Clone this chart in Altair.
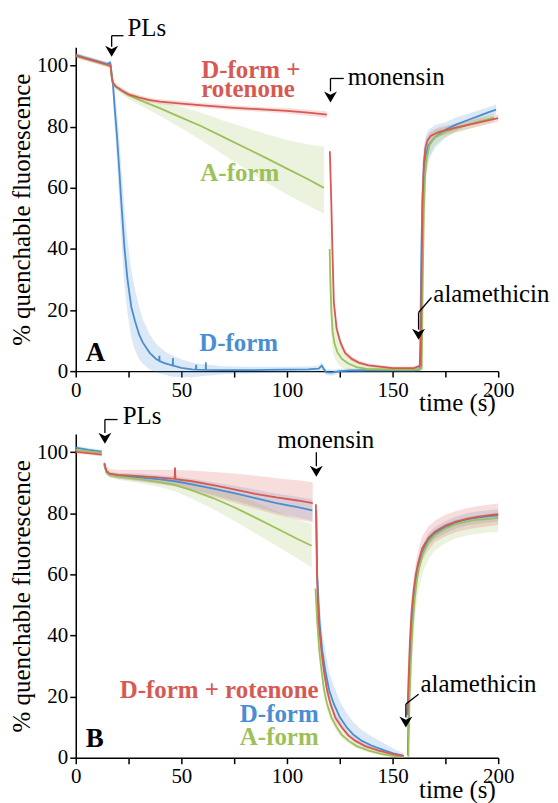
import altair as alt
import pandas as pd

# ---------------- data ----------------
# Panel A
A_RED1_T = [0, 5, 10, 15, 16.5, 17, 17.5, 19, 22, 25, 30, 35, 40, 50, 60, 75, 90, 100, 110, 118.9]
A_RED1_V = [103.3, 102.3, 101.3, 100.3, 99.9, 96.5, 94.5, 93.2, 91.8, 90.6, 89.5, 88.7, 88.2, 87.6, 87.0, 86.2, 85.6, 85.2, 84.6, 84.0]
A_RED1_LO = [102.5, 101.5, 100.5, 99.5, 99.1, 95.5, 93.6, 92.4, 91.0, 89.8, 88.7, 87.9, 87.4, 86.8, 86.2, 85.4, 84.8, 84.3, 83.6, 82.9]
A_RED1_HI = [104.1, 103.1, 102.1, 101.1, 100.7, 97.5, 95.4, 94.0, 92.6, 91.4, 90.3, 89.5, 89.0, 88.4, 87.8, 87.0, 86.4, 86.1, 85.6, 85.1]

A_RED2_T = [120.3, 121, 121.5, 122.2, 123.5, 125.3, 127.5, 130.7, 134, 138.7, 150, 160, 163.3, 163.7, 164.2, 164.8, 165.5, 166.5, 168, 172, 180, 190, 200]
A_RED2_V = [72, 55, 40, 22.5, 14, 9.4, 6, 4, 2.8, 1.9, 1.0, 1.0, 1.8, 30, 55, 68, 73, 75.5, 77, 78.3, 79.7, 81.3, 82.8]
A_RED2_LO = [70, 52, 37, 20.5, 12.5, 8.2, 5, 3.2, 2.1, 1.3, 0.5, 0.5, 1.2, 26, 51, 65.5, 71, 73.8, 75.5, 76.8, 78.3, 80, 81.6]
A_RED2_HI = [74, 58, 43, 24.5, 15.5, 10.6, 7, 4.8, 3.5, 2.5, 1.5, 1.5, 2.4, 34, 59, 70.5, 75, 77.2, 78.5, 79.8, 81.1, 82.6, 84]

A_GRN1_T = [0, 5, 10, 15, 16.5, 17, 17.5, 19, 22, 25, 30, 35, 40, 50, 60, 70, 80, 90, 100, 110, 117.5]
A_GRN1_V = [103.2, 102.2, 101.2, 100.2, 99.8, 96.3, 94.4, 93.0, 91.6, 90.3, 88.8, 87.4, 86.0, 83.0, 80.0, 76.6, 73.2, 69.8, 66.3, 62.8, 60.0]
A_GRN1_LO = [102.5, 101.5, 100.5, 99.5, 99.1, 95.5, 93.5, 92.2, 90.6, 89.0, 87.2, 85.4, 83.5, 79.5, 75.3, 70.8, 66.3, 61.8, 57.8, 54.2, 51.5]
A_GRN1_HI = [103.9, 102.9, 101.9, 100.9, 100.5, 97.1, 95.3, 93.8, 92.5, 91.4, 90.2, 89.2, 88.3, 86.5, 84.5, 82.0, 79.8, 77.6, 75.7, 74.2, 73.5]

A_GRN2_T = [120.2, 120.6, 121, 121.6, 122.5, 124, 126, 129, 133, 138, 150, 160, 163.8, 164.3, 164.8, 165.4, 166.2, 167.5, 170, 175, 180, 190, 198]
A_GRN2_V = [40, 28, 20, 13, 9, 6, 4, 2.5, 1.3, 0.7, 0.5, 0.5, 0.8, 30, 52, 64, 70, 74, 76.5, 78.3, 79.5, 81.5, 83]
A_GRN2_LO = [28, 18, 12, 7, 4.5, 2.5, 1.2, 0.3, -0.3, -0.4, -0.2, -0.2, 0.2, 18, 40, 56, 65, 70.5, 74, 76.5, 78, 80, 81.5]
A_GRN2_HI = [60, 45, 34, 24, 17, 12, 8, 5.2, 3.2, 2, 1.2, 1.2, 1.5, 45, 64, 71, 75, 77.5, 79, 80, 81, 83, 84.5]

A_BLU_T = [0, 5, 10, 15, 16.2, 16.5, 16.8, 17.6, 18.4, 19.5, 20.5, 21.6, 23.1, 24.5, 26.3, 28, 30, 31.7, 35, 38,
           39.5, 39.6, 39.7, 42, 45.9, 46.0, 46.1, 50, 55, 56.9, 57.0, 57.1, 61.5, 61.6, 61.7, 70, 80, 90, 100, 110,
           115, 116.5, 117.5, 118.5, 121, 125, 130, 140, 150, 160, 162.8, 163.1, 163.3, 163.7, 164.2, 164.8, 165.8,
           167, 170, 175, 180, 186, 190, 195, 199]
A_BLU_V = [103.5, 102.5, 101.5, 100.5, 101.0, 100.5, 98.5, 94, 86.5, 77, 67, 55, 40, 30, 21, 16.5, 12, 9.4, 6, 4.0,
           3.4, 5.0, 3.3, 2.6, 1.8, 4.3, 1.8, 1.1, 0.6, 0.5, 2.1, 0.5, 0.4, 2.9, 0.4, 0.3, 0.3, 0.4, 0.5, 0.6,
           0.8, 1.8, 0.6, -0.3, -0.5, 0, 0.2, 0.3, 0.3, 0.3, 0.5, 9, 21, 42, 58, 66, 71,
           74, 76.5, 79, 80.7, 82.3, 83.3, 84.6, 85.6]
A_BLU_LO = [102.8, 101.8, 100.8, 99.8, 100.2, 99.5, 96.5, 90, 80, 69, 57, 43, 28, 19, 11, 7, 4, 2.5, 0.5, -0.5,
            -0.8, -0.8, -0.8, -1.2, -1.8, -1.8, -1.8, -2, -2, -1.8, -1.8, -1.8, -1.5, -1.5, -1.5, -1, -0.8, -0.6, -0.4, -0.3,
            -0.2, 0.5, -0.5, -1.3, -1.5, -0.8, -0.5, -0.4, -0.4, -0.4, -0.2, 4, 12, 28, 44, 56, 64,
            69, 73, 76.5, 78.5, 80.5, 81.5, 83, 84]
A_BLU_HI = [104.2, 103.2, 102.2, 101.2, 101.8, 101.5, 100.5, 97, 92, 85, 77, 67, 53, 43, 33, 27, 21, 17, 12, 9,
            8, 8, 8, 6.5, 5, 5, 5, 3.8, 2.8, 2.5, 2.5, 2.5, 2.2, 2.2, 2.2, 1.6, 1.4, 1.4, 1.4, 1.5,
            1.8, 3, 1.6, 0.7, 0.5, 0.8, 0.9, 1, 1, 1, 1.2, 16, 32, 56, 69, 74, 77,
            79, 80.5, 81.5, 83, 84.3, 85.2, 86.3, 87.3]

# Panel B
B_RED1_T = [0, 6, 12.3]
B_RED1_V = [100.1, 99.7, 99.2]
B_RED1_LO = [99.5, 99.1, 98.6]
B_RED1_HI = [100.7, 100.3, 99.8]
B_RED2_T = [13.5, 14.5, 16, 20, 30, 40, 46.8, 47, 47.2, 55, 65, 75, 85, 95, 105, 112.2]
B_RED2_V = [96.5, 94.0, 93.0, 92.6, 92.2, 91.7, 91.3, 95.0, 91.2, 90.5, 89.2, 87.8, 86.4, 85.2, 84.2, 83.3]
B_RED2_LO = [95.5, 92.8, 91.8, 91.3, 90.5, 89.5, 88.8, 88.8, 88.7, 87.5, 85.5, 83.5, 81.5, 79.5, 78, 77]
B_RED2_HI = [97.5, 95.3, 94.5, 94.3, 94.3, 94.3, 94.2, 96, 94.2, 94.0, 93.5, 93, 92.3, 91.5, 90.8, 90.2]
B_RED3_T = [113.7, 114.2, 115, 116.3, 117.5, 119, 120.6, 123, 126, 129, 132.4, 137, 143.4, 150, 155.2]
B_RED3_V = [83, 60, 44.6, 35, 28.3, 22, 17.6, 13, 9.9, 7.3, 5.5, 3.8, 2.3, 1.2, 0.6]
B_RED3_LO = [80, 57, 42, 32.5, 26, 20, 16, 11.7, 8.8, 6.4, 4.7, 3.1, 1.7, 0.7, 0.2]
B_RED3_HI = [85, 63, 47, 37.5, 30.5, 24, 19.2, 14.3, 11, 8.2, 6.3, 4.5, 2.9, 1.7, 1.0]
B_RED4_T = [157, 157.5, 158.2, 159, 160, 161, 162, 164, 167, 170, 175, 180, 185, 190, 195, 200]
B_RED4_V = [14, 25, 38, 48, 55, 60, 63.5, 68.5, 72, 74, 76, 77.3, 78.2, 78.8, 79.3, 79.7]
B_RED4_LO = [11, 21, 33, 43.5, 51, 56, 59.5, 64.5, 68, 70.5, 72.5, 73.8, 74.7, 75.3, 75.8, 76.2]
B_RED4_HI = [17, 29, 43, 52.5, 59, 64, 67.5, 72.5, 75.8, 77.6, 79.5, 80.8, 81.7, 82.3, 82.8, 83.2]

B_BLU1_T = [0, 6, 12.3]
B_BLU1_V = [101.5, 100.8, 100.2]
B_BLU1_LO = [100.9, 100.2, 99.6]
B_BLU1_HI = [102.1, 101.4, 100.8]
B_BLU2_T = [13.5, 14.5, 16, 20, 30, 40, 47, 55, 65, 75, 85, 95, 105, 112]
B_BLU2_V = [96, 93.5, 92.8, 92.3, 91.8, 91.1, 90.5, 89.5, 88.1, 86.6, 85.0, 83.3, 82.0, 81.0]
B_BLU2_LO = [95.4, 92.8, 92, 91.4, 90.6, 89.7, 88.9, 87.7, 86, 84.2, 82.2, 80.2, 78.6, 77.5]
B_BLU2_HI = [96.6, 94.2, 93.6, 93.2, 93, 92.5, 92.1, 91.3, 90.2, 89, 87.8, 86.4, 85.4, 84.5]
B_BLU3_T = [113.9, 114.3, 115.4, 116.7, 118.2, 120, 122.2, 125, 128.3, 131.5, 135.5, 140, 146.5, 151, 155.2]
B_BLU3_V = [81, 60, 44.6, 35, 28.3, 22, 17.6, 13.3, 9.9, 7.5, 5.5, 4, 2.3, 1.3, 0.6]
B_BLU3_LO = [78, 55, 40, 31, 24.5, 19, 15, 11, 8, 6, 4.2, 3, 1.6, 0.7, 0.1]
B_BLU3_HI = [84, 66, 51, 41, 35, 28, 23.5, 18.5, 14.5, 11.5, 9, 7, 4.5, 2.8, 1.5]
B_BLU4_T = [157.2, 157.5, 158, 158.7, 159.5, 160.5, 161.5, 162.5, 164.5, 167, 170, 175, 180, 185, 190, 195, 200]
B_BLU4_V = [0.8, 12, 25, 38, 48, 55, 60, 63.5, 68, 71.5, 73.5, 75.5, 77, 78, 78.6, 79, 79.3]
B_BLU4_LO = [0, 9, 21, 34, 45, 52, 57, 61, 66, 69.5, 71.5, 73.5, 75, 76, 76.6, 77, 77.3]
B_BLU4_HI = [2, 15, 29, 42, 51, 58, 63, 66, 70, 73.5, 75.5, 77.5, 79, 80, 80.6, 81, 81.3]

B_GRN1_T = [0, 6, 12.3]
B_GRN1_V = [100.8, 100.3, 99.8]
B_GRN1_LO = [100.2, 99.7, 99.2]
B_GRN1_HI = [101.4, 100.9, 100.4]
B_GRN2_T = [13.5, 14.5, 16, 20, 30, 40, 47, 55, 65, 75, 85, 95, 105, 111.7]
B_GRN2_V = [96, 93.4, 92.6, 92.0, 91.2, 90.2, 89.3, 87.5, 85.0, 82.0, 78.6, 75.1, 71.6, 69.4]
B_GRN2_LO = [95.4, 92.6, 91.8, 91.0, 89.9, 88.5, 87.2, 84.8, 81.4, 77.6, 73.5, 69.4, 65.2, 62.3]
B_GRN2_HI = [96.6, 94.2, 93.4, 93.0, 92.5, 91.9, 91.3, 90.2, 88.6, 86.4, 83.7, 80.8, 78.0, 76.5]
B_GRN3_T = [113.5, 114.3, 115.3, 116.4, 117.6, 119, 121, 123.6, 126, 129.2, 133, 138.7, 145, 150, 155.2]
B_GRN3_V = [55.4, 44.6, 35, 28.3, 22, 17.6, 13.3, 9.9, 7.5, 5.5, 3.8, 2.3, 1.2, 0.6, 0.3]
B_GRN3_LO = [52, 41.5, 32.2, 25.8, 19.8, 15.7, 11.7, 8.6, 6.4, 4.6, 3.0, 1.7, 0.7, 0.2, -0.1]
B_GRN3_HI = [58.8, 47.7, 37.8, 30.8, 24.2, 19.5, 14.9, 11.2, 8.6, 6.4, 4.6, 2.9, 1.7, 1.0, 0.7]
B_GRN4_T = [157.5, 157.6, 158, 158.7, 159.5, 160.5, 161.5, 162.5, 164.5, 167, 170, 175, 180, 185, 190, 195, 200]
B_GRN4_V = [0.3, 5, 18, 32, 43, 52, 58, 62, 67, 70.5, 72.8, 75, 76.5, 77.3, 77.9, 78.2, 78.5]
B_GRN4_LO = [0, 2, 12, 25, 36, 45, 51, 55.5, 61, 65, 67.8, 70.2, 71.8, 72.7, 73.3, 73.7, 74]
B_GRN4_HI = [0.8, 8, 22, 36, 47, 55.5, 61, 64.5, 69, 72.3, 74.5, 76.6, 78, 78.8, 79.4, 79.8, 80.2]

# annotation texts
A_NOTE_TEXT = ["PLs", "monensin", "alamethicin"]
A_NOTE_T = [24.5, 128.8, 169.3]
A_NOTE_V = [109.6, 93.6, 22.5]
B_NOTE_TEXT = ["PLs", "alamethicin"]
B_NOTE_T = [22.2, 163.2]
B_NOTE_V = [109.3, 21.6]
B_MON_TEXT = ["monensin"]
B_MON_T = [118.4]
B_MON_V = [101.4]

# arrow segments (t, v) -> (t2, v2) and arrow heads
A_SEG_T = [17, 17, 120.6, 120.6, 168.4, 162.3]
A_SEG_V = [109.8, 109.8, 95.8, 95.8, 24.1, 19.2]
A_SEG_T2 = [22.6, 17, 126.9, 120.6, 162.3, 162.3]
A_SEG_V2 = [109.8, 106.2, 95.8, 91.6, 19.2, 13.6]
A_HEAD_T = [17, 120.6, 162.3]
A_HEAD_V = [104.7, 89.7, 12.05]
B_SEG_T = [13.8, 13.8, 113.9, 162.3, 156.3]
B_SEG_V = [110.7, 110.7, 100.0, 20.8, 17.6]
B_SEG_T2 = [19.8, 13.8, 113.9, 156.3, 156.3]
B_SEG_V2 = [110.7, 106.3, 95.4, 17.6, 13.2]
B_HEAD_T = [13.8, 113.9, 156.3]
B_HEAD_V = [104.6, 93.8, 11.7]

# series labels
A_LAB_TEXT = ["D-form +", "rotenone", "A-form", "D-form"]
A_LAB_SER = ["red", "red", "green", "blue"]
A_LAB_T = [59.4, 59.4, 59.0, 58.5]
A_LAB_V = [95.8, 89.9, 62.2, 6.5]
B_LAB_TEXT = ["D-form + rotenone", "D-form", "A-form"]
B_LAB_SER = ["red", "blue", "green"]
B_LAB_T = [115, 115, 115]
B_LAB_V = [19.5, 11.7, 4.2]
PANEL_T = [4.7]
PANEL_V = [3.4]

X_TICKS = [0, 25, 50, 75, 100, 125, 150, 175, 200]
Y_TICKS = [0, 20, 40, 60, 80, 100]

COL = {"red": "#d65a53", "blue": "#4a8ed2", "green": "#9cc15b"}
FONT = "Liberation Serif, Times New Roman, serif"

SEGMENTS = [
    ("A", "blue", A_BLU_T, A_BLU_V, A_BLU_LO, A_BLU_HI),
    ("A", "green", A_GRN1_T, A_GRN1_V, A_GRN1_LO, A_GRN1_HI),
    ("A", "green", A_GRN2_T, A_GRN2_V, A_GRN2_LO, A_GRN2_HI),
    ("A", "red", A_RED1_T, A_RED1_V, A_RED1_LO, A_RED1_HI),
    ("A", "red", A_RED2_T, A_RED2_V, A_RED2_LO, A_RED2_HI),
    ("B", "blue", B_BLU1_T, B_BLU1_V, B_BLU1_LO, B_BLU1_HI),
    ("B", "blue", B_BLU2_T, B_BLU2_V, B_BLU2_LO, B_BLU2_HI),
    ("B", "blue", B_BLU3_T, B_BLU3_V, B_BLU3_LO, B_BLU3_HI),
    ("B", "blue", B_BLU4_T, B_BLU4_V, B_BLU4_LO, B_BLU4_HI),
    ("B", "green", B_GRN1_T, B_GRN1_V, B_GRN1_LO, B_GRN1_HI),
    ("B", "green", B_GRN2_T, B_GRN2_V, B_GRN2_LO, B_GRN2_HI),
    ("B", "green", B_GRN3_T, B_GRN3_V, B_GRN3_LO, B_GRN3_HI),
    ("B", "green", B_GRN4_T, B_GRN4_V, B_GRN4_LO, B_GRN4_HI),
    ("B", "red", B_RED1_T, B_RED1_V, B_RED1_LO, B_RED1_HI),
    ("B", "red", B_RED2_T, B_RED2_V, B_RED2_LO, B_RED2_HI),
    ("B", "red", B_RED3_T, B_RED3_V, B_RED3_LO, B_RED3_HI),
    ("B", "red", B_RED4_T, B_RED4_V, B_RED4_LO, B_RED4_HI),
]

rows = []
for i, (p, s, T, V, LO, HI) in enumerate(SEGMENTS):
    assert len(T) == len(V) == len(LO) == len(HI), (p, s, i)
    for t, v, lo, hi in zip(T, V, LO, HI):
        rows.append(dict(panel=p, series=s, seg=i, t=t, v=v, lo=lo, hi=hi))
df = pd.DataFrame(rows)

# ---------------- encodings ----------------
XS = alt.Scale(domain=[0, 200], nice=False, zero=False)
YS = alt.Scale(domain=[0, 106], nice=False, zero=False)
XAX = alt.Axis(values=X_TICKS, labelExpr="datum.value % 50 == 0 ? datum.label : ''",
               tickSize=6, labelPadding=2, labelOverlap=False, labelFlush=False,
               titleX=421, titleY=40, titleAlign="right", titleBaseline="alphabetic")
YAX = alt.Axis(values=Y_TICKS, tickSize=6, labelPadding=2, labelOverlap=False, labelFlush=False,
               titlePadding=2)


def X(f="t"):
    return alt.X(f"{f}:Q", scale=XS, axis=XAX, title="time (s)")


def Y(f="v"):
    return alt.Y(f"{f}:Q", scale=YS, axis=YAX, title="% quenchable fluorescence")


def panel(p, notes, mon, segs, heads, labs, lab_align, letter):
    d = df[df.panel == p]
    layers = []
    for s in ["blue", "green", "red"]:
        ds = d[d.series == s]
        layers.append(alt.Chart(ds).mark_area(color=COL[s], opacity=0.2).encode(
            x=X(), y=Y("lo"), y2="hi:Q", detail="seg:N"))
    for s in ["blue", "green", "red"]:
        ds = d[d.series == s]
        layers.append(alt.Chart(ds).mark_line(color=COL[s], strokeWidth=1.8).encode(
            x=X(), y=Y(), detail="seg:N", order="t:Q"))
    # arrows
    layers.append(alt.Chart(segs).mark_rule(color="black", strokeWidth=1.3).encode(
        x=X(), y=Y(), x2="t2:Q", y2="v2:Q"))
    layers.append(alt.Chart(heads).mark_point(
        shape="M0,0.85L-1,-0.85L0,-0.35L1,-0.85Z", size=169, filled=True,
        color="black", opacity=1, strokeWidth=0).encode(x=X(), y=Y()))
    # annotation text
    layers.append(alt.Chart(notes).mark_text(font=FONT, fontSize=25, align="left",
                                             baseline="alphabetic", color="black").encode(
        x=X(), y=Y(), text="text:N"))
    if mon is not None:
        layers.append(alt.Chart(mon).mark_text(font=FONT, fontSize=25, align="center",
                                               baseline="alphabetic", color="black").encode(
            x=X(), y=Y(), text="text:N"))
    # series labels
    layers.append(alt.Chart(labs).mark_text(font=FONT, fontSize=25, fontWeight="bold",
                                            align=lab_align, baseline="alphabetic").encode(
        x=X(), y=Y(), text="text:N",
        color=alt.Color("series:N", scale=alt.Scale(domain=list(COL.keys()),
                                                    range=list(COL.values())), legend=None)))
    layers.append(alt.Chart(letter).mark_text(font=FONT, fontSize=27, fontWeight="bold",
                                              align="left", baseline="alphabetic",
                                              color="black").encode(
        x=X(), y=Y(), text="text:N"))
    return alt.layer(*layers).properties(width=424, height=325)


a_notes = pd.DataFrame(dict(text=A_NOTE_TEXT, t=A_NOTE_T, v=A_NOTE_V))
b_notes = pd.DataFrame(dict(text=B_NOTE_TEXT, t=B_NOTE_T, v=B_NOTE_V))
b_mon = pd.DataFrame(dict(text=B_MON_TEXT, t=B_MON_T, v=B_MON_V))
a_segs = pd.DataFrame(dict(t=A_SEG_T, v=A_SEG_V, t2=A_SEG_T2, v2=A_SEG_V2))
b_segs = pd.DataFrame(dict(t=B_SEG_T, v=B_SEG_V, t2=B_SEG_T2, v2=B_SEG_V2))
a_heads = pd.DataFrame(dict(t=A_HEAD_T, v=A_HEAD_V))
b_heads = pd.DataFrame(dict(t=B_HEAD_T, v=B_HEAD_V))
a_labs = pd.DataFrame(dict(text=A_LAB_TEXT, series=A_LAB_SER, t=A_LAB_T, v=A_LAB_V))
b_labs = pd.DataFrame(dict(text=B_LAB_TEXT, series=B_LAB_SER, t=B_LAB_T, v=B_LAB_V))
a_letter = pd.DataFrame(dict(text=["A"], t=PANEL_T, v=PANEL_V))
b_letter = pd.DataFrame(dict(text=["B"], t=PANEL_T, v=PANEL_V))

pa = panel("A", a_notes, None, a_segs, a_heads, a_labs, "left", a_letter)
pb = panel("B", b_notes, b_mon, b_segs, b_heads, b_labs, "right", b_letter)

chart = alt.vconcat(pa, pb, spacing=63, bounds="flush").properties(
    padding={"left": 1, "top": 6, "right": 0, "bottom": 0}
).configure_view(stroke=None).configure_axis(
    labelFont=FONT, titleFont=FONT, labelFontSize=21, titleFontSize=25,
    titleFontWeight="normal", labelColor="black", titleColor="black",
    domainColor="black", tickColor="black", domainWidth=1.5, tickWidth=1.5, grid=False
)

chart.save("out.html", embed_options={"renderer": "svg", "actions": False})
